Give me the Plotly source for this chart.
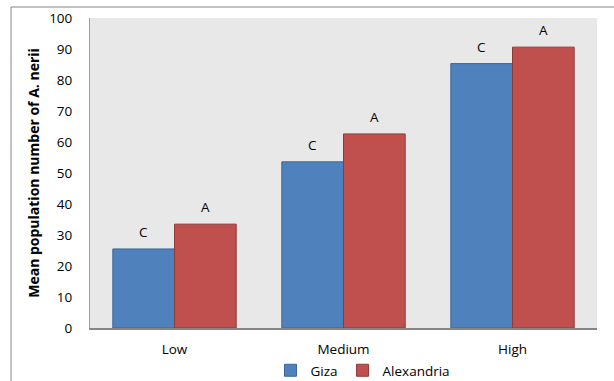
import plotly.graph_objects as go

categories = ["Low", "Medium", "High"]
giza = [25.5, 53.6, 85.3]
alexandria = [33.5, 62.6, 90.6]
giza_letters = ["C", "C", "C"]
alex_letters = ["A", "A", "A"]
y_ticks = [0, 10, 20, 30, 40, 50, 60, 70, 80, 90, 100]

W, H = 614, 381
L, R, T, B = 90, 17, 18, 53
plot_w = W - L - R
plot_h = H - T - B
bargap = 0.27
bar_px = plot_w / len(categories) * (1 - bargap) / 2

FONT = "Open Sans, Lato, sans-serif"

fig = go.Figure()
fig.add_trace(go.Bar(x=categories, y=giza, name="Giza",
                     marker=dict(color="#4F81BD", line=dict(color="#3A679C", width=1))))
fig.add_trace(go.Bar(x=categories, y=alexandria, name="Alexandria",
                     marker=dict(color="#C0504D", line=dict(color="#8E3A38", width=1))))

for cat, v, t in zip(categories, giza, giza_letters):
    fig.add_annotation(x=cat, y=v, text=t, showarrow=False, xshift=-bar_px / 2,
                       yshift=17, font=dict(size=13.5, color="#000", family=FONT))
for cat, v, t in zip(categories, alexandria, alex_letters):
    fig.add_annotation(x=cat, y=v, text=t, showarrow=False, xshift=bar_px / 2,
                       yshift=17, font=dict(size=13.5, color="#000", family=FONT))

# outer chart border
fig.add_shape(type="rect", xref="paper", yref="paper",
              x0=(11 - L) / plot_w, x1=(W + 20 - L) / plot_w,
              y0=-(B + 20) / plot_h, y1=(H - B - 7) / plot_h,
              line=dict(color="#868686", width=1), layer="below")

fig.update_layout(
    width=W, height=H,
    margin=dict(l=L, r=R, t=T, b=B, autoexpand=False),
    paper_bgcolor="white",
    plot_bgcolor="#E8E8E8",
    barmode="group", bargap=bargap, bargroupgap=0,
    font=dict(family=FONT, size=13, color="#000"),
    showlegend=True,
    legend=dict(orientation="h", xref="container", yref="container",
                x=363 / W, xanchor="center",
                y=1 - 355 / H, yanchor="top",
                font=dict(size=13.5, family=FONT), itemwidth=30,
                bgcolor="rgba(0,0,0,0)", traceorder="normal"),
)
fig.update_xaxes(showline=True, linecolor="#868686", linewidth=2, ticks="",
                 tickfont=dict(size=13.5), showgrid=False, mirror=False,
                 automargin=False, ticklabelstandoff=8)
fig.update_yaxes(range=[0, 100], tickvals=y_ticks, showline=True, linecolor="#A0A0A0",
                 linewidth=1, showgrid=False, zeroline=False, ticks="",
                 ticklabelstandoff=14, tickfont=dict(size=13.5), automargin=False,
                 title=dict(text="<b>Mean population number of A. nerii</b>",
                            font=dict(size=14, family=FONT), standoff=6))

fig.write_html("out.html", config={"displayModeBar": False},
               post_script="document.body.style.margin='0';document.body.style.overflow='hidden';")
